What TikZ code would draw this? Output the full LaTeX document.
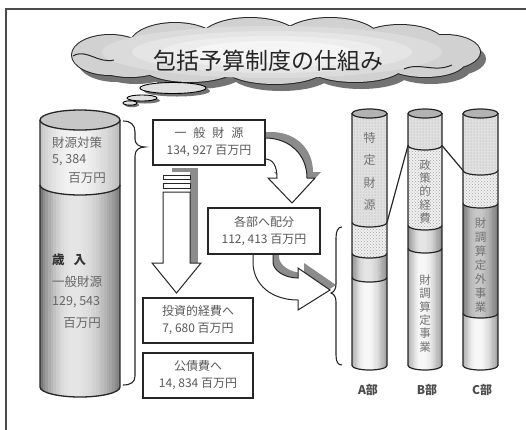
\documentclass[tikz,border=0pt]{standalone}
\usepackage{fontspec}
\setmainfont{Noto Sans CJK JP}
\usetikzlibrary{patterns}

% outline of one band of a cylinder between the front arcs at y=#4 and y=#5
\newcommand\cylband[5]{%
  ({#1-#2},#4) -- ({#1-#2},#5)
    arc[start angle=180,end angle=360,x radius=#2pt,y radius=#3pt]
    -- ({#1+#2},#4)
    arc[start angle=0,end angle=-180,x radius=#2pt,y radius=#3pt] -- cycle}
% plain fill of a band
\newcommand\cylpart[6]{\path[#6] \cylband{#1}{#2}{#3}{#4}{#5};}
% band shaded across its width by thin vertical strips (black percentages)
\newcommand\cylshade[8]{%
  \begin{scope}
    \clip \cylband{#1}{#2}{#3}{#4}{#5};
    \foreach \k in {0,...,29}{%
      \pgfmathsetmacro\ucoord{(\k+0.5)/30}%
      \pgfmathtruncatemacro\gv{\ucoord<0.42 ? #7+(#6-#7)*((0.42-\ucoord)/0.42)^2 : #7+(#8-#7)*((\ucoord-0.42)/0.58)^2}%
      \fill[black!\gv] ({#1-#2+\k*2*#2/30},{#4-#3-1}) rectangle ({#1-#2+(\k+1)*2*#2/30+0.5},{#5+#3+1});
    }
  \end{scope}}
% front arc of a cylinder at height #4
\newcommand\cylarc[4]{%
  \draw[colline] ({#1-#2},#4)
    arc[start angle=180,end angle=360,x radius=#2pt,y radius=#3pt];}
% a department column: x, r, top, three boundaries, bottom, shades of third band
\newcommand\deptcol[9]{%
  \cylpart{#1}{#2}{4.5}{#3}{#4}{fill=black!12}
  \cylpart{#1}{#2}{4.5}{#3}{#4}{pattern=dots,pattern color=black!35}
  \cylpart{#1}{#2}{4.5}{#4}{#5}{fill=black!6}
  \cylpart{#1}{#2}{4.5}{#4}{#5}{pattern=crosshatch dots,pattern color=black!35}
  \cylshade{#1}{#2}{4.5}{#5}{#6}{#8}{#9}{#8}
  \cylshade{#1}{#2}{4.5}{#6}{#7}{36}{3}{42}
  \draw[colline] ({#1-#2},#3) -- ({#1-#2},#7)
    arc[start angle=180,end angle=360,x radius=#2pt,y radius=4.5pt] -- ({#1+#2},#3);
  \cylarc{#1}{#2}{4.5}{#4}
  \cylarc{#1}{#2}{4.5}{#5}
  \cylarc{#1}{#2}{4.5}{#6}
  \draw[colline,fill=black!30] (#1,#3) ellipse[x radius=#2pt,y radius=4.5pt];}
% the puffs that make up the title cloud
\newcommand\cloudpuffs{%
  (110,55) ellipse[x radius=38pt,y radius=20pt]
  (175,45) ellipse[x radius=45pt,y radius=22pt]
  (250,40) ellipse[x radius=50pt,y radius=22pt]
  (330,40) ellipse[x radius=50pt,y radius=22pt]
  (400,45) ellipse[x radius=45pt,y radius=20pt]
  (445,52) ellipse[x radius=35pt,y radius=17pt]
  (130,64) ellipse[x radius=35pt,y radius=13pt]
  (190,66) ellipse[x radius=48pt,y radius=16pt]
  (275,68) ellipse[x radius=50pt,y radius=16pt]
  (355,66) ellipse[x radius=48pt,y radius=16pt]
  (425,62) ellipse[x radius=40pt,y radius=15pt]}

\begin{document}
\begin{tikzpicture}[x=1pt,y=-1pt,
  colline/.style={draw=black!85,line width=1.2pt},
  box/.style={draw=black!85,line width=1.7pt,fill=white,inner sep=0pt,
    align=center,text=black!65,font=\fontsize{12}{17}\selectfont},
  cyltext/.style={text=black!60,inner sep=0pt,font=\fontsize{12.5}{14}\selectfont},
  vtext/.style={text=black!55,inner sep=0pt,align=center},
  deptlabel/.style={text=black!70,inner sep=0pt,font=\fontsize{12}{14}\selectfont\bfseries},
  flow/.style={draw=black!85,line width=1pt,fill=white,line join=miter},
  flowshadow/.style={fill=black!45}]

\useasboundingbox (0,0) rectangle (526,429);
\clip (0,0) rectangle (526,429);
\fill[white] (0,0) rectangle (526,429);

% outer frame
\draw[line width=1.6pt,black!70] (6,9) rectangle (600,500);

% title cloud: shadow, outline, body with a lighter centre
\fill[black!55,shift={(6,7)}] \cloudpuffs;
\draw[line width=2pt,black!85] \cloudpuffs;
\fill[black!18] \cloudpuffs;
\fill[black!14] (272,52) ellipse[x radius=170pt,y radius=26pt];
\fill[black!10] (272,52) ellipse[x radius=140pt,y radius=21pt];
\fill[black!7] (272,52) ellipse[x radius=110pt,y radius=16pt];
\fill[black!4] (272,52) ellipse[x radius=80pt,y radius=11pt];
\draw[line width=1pt,black!85] (73,56) .. controls (86,48) and (98,64) .. (114,60);
\draw[line width=1pt,black!85] (404,69) .. controls (420,62) and (434,73) .. (452,65);
\node[font=\fontsize{23}{23}\selectfont,text=black!85,inner sep=0pt] (title) at (268,61)
  {包括予算制度の仕組み};

\fill[black!55] (177,91) ellipse[x radius=33pt,y radius=5.5pt];
\draw[line width=0.9pt,fill=black!12] (173,88) ellipse[x radius=33pt,y radius=5.5pt];
\fill[black!55] (145,100.5) ellipse[x radius=15pt,y radius=3pt];
\draw[line width=0.9pt,fill=black!12] (142,98) ellipse[x radius=15pt,y radius=3pt];
\fill[black!55] (132,105) ellipse[x radius=7pt,y radius=2.2pt];
\draw[line width=0.9pt,fill=black!12] (130,103) ellipse[x radius=7pt,y radius=2.2pt];

% revenue cylinder
\cylshade{80}{40}{10}{120}{185}{24}{5}{28}
\cylshade{80}{40}{10}{185}{387}{56}{10}{52}
\draw[line width=1.3pt,black!85] (40,120) -- (40,387)
  arc[start angle=180,end angle=360,x radius=40pt,y radius=10pt] -- (120,120);
\draw[line width=1.3pt,black!85] (40,185)
  arc[start angle=180,end angle=360,x radius=40pt,y radius=10pt];
\draw[line width=1.3pt,black!85,fill=black!22] (80,120) ellipse[x radius=40pt,y radius=10pt];

\node[cyltext,anchor=west] (rev1) at (52,143) {財源対策};
\node[cyltext,anchor=west] (rev2) at (52,160) {5, 384};
\node[cyltext,anchor=east] (rev3) at (106,178) {百万円};
\node[cyltext,anchor=west,text=black!80,font=\fontsize{12.5}{14}\selectfont\bfseries]
  (rev4) at (52,260) {歳\hspace{9pt}入};
\node[cyltext,anchor=west] (rev5) at (52,282) {一般財源};
\node[cyltext,anchor=west] (rev6) at (52,302) {129, 543};
\node[cyltext,anchor=east] (rev7) at (101,323) {百万円};

% brace gathering the revenue
\coordinate (lbraceTip) at (145,147);
\draw[line width=1.1pt,black!85] (123,121) .. controls (131,121) and (135,125) .. (135,132)
  -- (135,139) .. controls (135,144) and (139,147) .. (lbraceTip)
  .. controls (139,147) and (135,150) .. (135,156)
  -- (135,376) .. controls (135,382) and (131,385) .. (123,385);

% downward arrow to investment spending
\fill[flowshadow] (172,168) rectangle (198,263);
\fill[white] (163,172) rectangle (190,264);
\draw[flow] (163,175) rectangle (190,179);
\draw[flow] (163,183) rectangle (190,188);
\draw[flow] (163,192) -- (163,263) -- (152,263) -- (176.5,293) -- (201,263) -- (190,263) -- (190,192) -- cycle;

% curved arrow towards the departments' share
\path[flowshadow,shift={(6,-6)}] (258,138) -- (265,138) .. controls (290,138) and (307,155) .. (307,178)
  -- (315,178) -- (292,203) -- (268,178) -- (277,178)
  .. controls (277,166) and (273,159) .. (265,159) -- (258,159) -- cycle;
\draw[flow] (258,138) -- (265,138) .. controls (290,138) and (307,155) .. (307,178)
  -- (315,178) -- (292,203) -- (268,178) -- (277,178)
  .. controls (277,166) and (273,159) .. (265,159) -- (258,159) -- cycle;

% curved arrow into the department columns
\path[flowshadow,shift={(6,-5)}] (253,248) -- (253,262) .. controls (253,285) and (272,300) .. (298,300)
  -- (298,310) -- (330,290) -- (298,268) -- (298,278)
  .. controls (284,278) and (273,270) .. (273,262) -- (273,248) -- cycle;
\draw[flow] (253,248) -- (253,262) .. controls (253,285) and (272,300) .. (298,300)
  -- (298,310) -- (330,290) -- (298,268) -- (298,278)
  .. controls (284,278) and (273,270) .. (273,262) -- (273,248) -- cycle;

% amount boxes
\node[box,minimum width=112pt,minimum height=45pt] (general) at (209,142.5)
  {一\hspace{7pt}般\hspace{7pt}財\hspace{7pt}源\\134, 927 百万円};
\node[box,minimum width=112pt,minimum height=46pt] (share) at (264,231)
  {各部へ配分\\112, 413 百万円};
\node[box,minimum width=110pt,minimum height=45pt] (invest) at (198,320.5)
  {投資的経費へ\\7, 680 百万円};
\node[box,minimum width=110pt,minimum height=45pt] (debt) at (198,375.5)
  {公債費へ\\14, 834 百万円};

% brace over the department columns
\coordinate (rbraceTip) at (331,293);
\draw[line width=1.1pt,black!85] (342,227) .. controls (338,227) and (336,231) .. (336,238)
  -- (336,284) .. controls (336,289) and (334,292) .. (rbraceTip)
  .. controls (334,294) and (336,297) .. (336,302)
  -- (336,355) .. controls (336,362) and (338,365) .. (342,365);

% department columns
\deptcol{369.5}{17.5}{113.5}{222.5}{253.5}{277.5}{365.5}{48}{10}
\deptcol{425}{17}{113.5}{145.5}{225.5}{248.5}{365.5}{48}{10}
\deptcol{480.5}{17.5}{113.5}{170.5}{203.5}{313.5}{365.5}{56}{22}

\coordinate (aJoin) at (387,222.5);
\coordinate (bJoinL) at (408,145.5);
\coordinate (bJoinR) at (442,145.5);
\coordinate (cJoin) at (463,170.5);
\draw[line width=1.2pt,black!85] (aJoin) -- (bJoinL);
\draw[line width=1.2pt,black!85] (bJoinR) -- (cJoin);

\node[vtext,font=\fontsize{12}{22.3}\selectfont] (aSpec) at (369.5,171.5) {特\\定\\財\\源};
\node[vtext,font=\fontsize{11.5}{13.3}\selectfont] (bPolicy) at (425,191.5) {政\\策\\的\\経\\費};
\node[vtext,font=\fontsize{11.5}{13.4}\selectfont] (bCalc) at (425,313.5) {財\\調\\算\\定\\事\\業};
\node[vtext,font=\fontsize{11.5}{14}\selectfont] (cOther) at (480.5,265) {財\\調\\算\\定\\外\\事\\業};

\node[deptlabel] (aLabel) at (368,390) {A部};
\node[deptlabel] (bLabel) at (427,390) {B部};
\node[deptlabel] (cLabel) at (482,390) {C部};
\end{tikzpicture}
\end{document}
